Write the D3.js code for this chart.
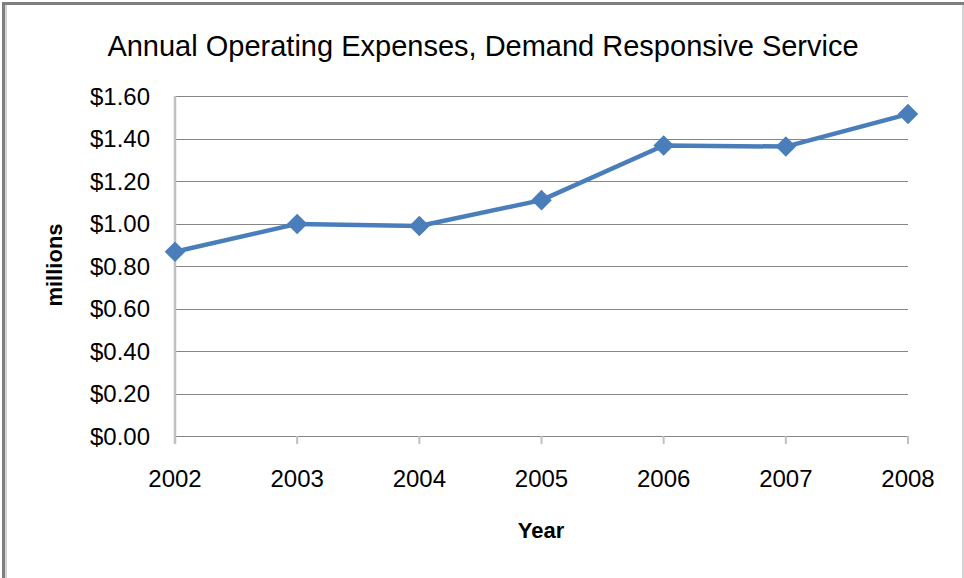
<!DOCTYPE html>
<html><head><meta charset="utf-8">
<script src="https://cdn.jsdelivr.net/npm/d3@7"></script>
<style>html,body{margin:0;padding:0;background:#fff;}svg{display:block;}</style>
</head><body>
<svg id="chart" width="964" height="578"></svg>
<script>
const years = ["2002","2003","2004","2005","2006","2007","2008"];
const expenses = [0.867, 0.998, 0.988, 1.11, 1.367, 1.362, 1.515];
const yTicks = [0, 0.2, 0.4, 0.6, 0.8, 1.0, 1.2, 1.4, 1.6];
const title = "Annual Operating Expenses, Demand Responsive Service";
const xTitle = "Year";
const yTitle = "millions";

const svg = d3.select("#chart");
const font = "'Liberation Sans', Arial, sans-serif";

// frame
svg.append("rect").attr("x",0).attr("y",0).attr("width",964).attr("height",578).attr("fill","#fff");
svg.append("rect").attr("x",2).attr("y",2).attr("width",962).attr("height",3).attr("fill","#7f7f7f");
svg.append("rect").attr("x",2).attr("y",2).attr("width",3).attr("height",576).attr("fill","#7f7f7f");
svg.append("rect").attr("x",5).attr("y",5).attr("width",2).attr("height",573).attr("fill","#d4d4d4");
svg.append("rect").attr("x",962).attr("y",5).attr("width",2).attr("height",573).attr("fill","#d4d4d4");

const x = d3.scalePoint().domain(years).range([175, 908]);
const y = d3.scaleLinear().domain([0, 1.6]).range([436, 96]);

// gridlines
svg.append("g").selectAll("line").data(yTicks).join("line")
  .attr("x1", 175).attr("x2", 908)
  .attr("y1", d => Math.round(y(d)) + 0.5).attr("y2", d => Math.round(y(d)) + 0.5)
  .attr("stroke", "#868686").attr("stroke-width", 1);

// y axis line
svg.append("line").attr("x1",175).attr("x2",175).attr("y1",96).attr("y2",444)
  .attr("stroke","#c0c0c0").attr("stroke-width",2.5);

// x ticks
svg.append("g").selectAll("line").data(years).join("line")
  .attr("x1", d => x(d)).attr("x2", d => x(d))
  .attr("y1", 436).attr("y2", 444)
  .attr("stroke", "#c0c0c0").attr("stroke-width", 2);

// y tick labels
svg.append("g").selectAll("text").data(yTicks).join("text")
  .attr("x", 150).attr("y", d => y(d) + 8.5)
  .attr("text-anchor","end")
  .attr("font-family", font).attr("font-size", 24).attr("fill","#000")
  .text(d => "$" + d3.format(".2f")(d));

// x tick labels
svg.append("g").selectAll("text").data(years).join("text")
  .attr("x", d => x(d)).attr("y", 487)
  .attr("text-anchor","middle")
  .attr("font-family", font).attr("font-size", 24).attr("fill","#000")
  .text(d => d);

// line
const line = d3.line().x((d,i) => x(years[i])).y(d => y(d));
svg.append("path").datum(expenses).attr("d", line)
  .attr("fill","none").attr("stroke","#4a7ebb").attr("stroke-width",4.5)
  .attr("stroke-linejoin","round");

// markers
svg.append("g").selectAll("path").data(expenses).join("path")
  .attr("transform", (d,i) => `translate(${x(years[i])},${y(d)})`)
  .attr("d", d3.symbol(d3.symbolDiamond2, 270)())
  .attr("fill","#4a7ebb");

// titles
svg.append("text").attr("x", 483).attr("y", 56).attr("text-anchor","middle")
  .attr("font-family", font).attr("font-size", 29).attr("fill","#000").text(title);
svg.append("text").attr("x", 541).attr("y", 538).attr("text-anchor","middle")
  .attr("font-family", font).attr("font-size", 22).attr("font-weight","bold").attr("fill","#000").text(xTitle);
svg.append("text").attr("transform","translate(62,265) rotate(-90)").attr("text-anchor","middle")
  .attr("font-family", font).attr("font-size", 22).attr("font-weight","bold").attr("fill","#000").text(yTitle);
</script>
</body></html>
